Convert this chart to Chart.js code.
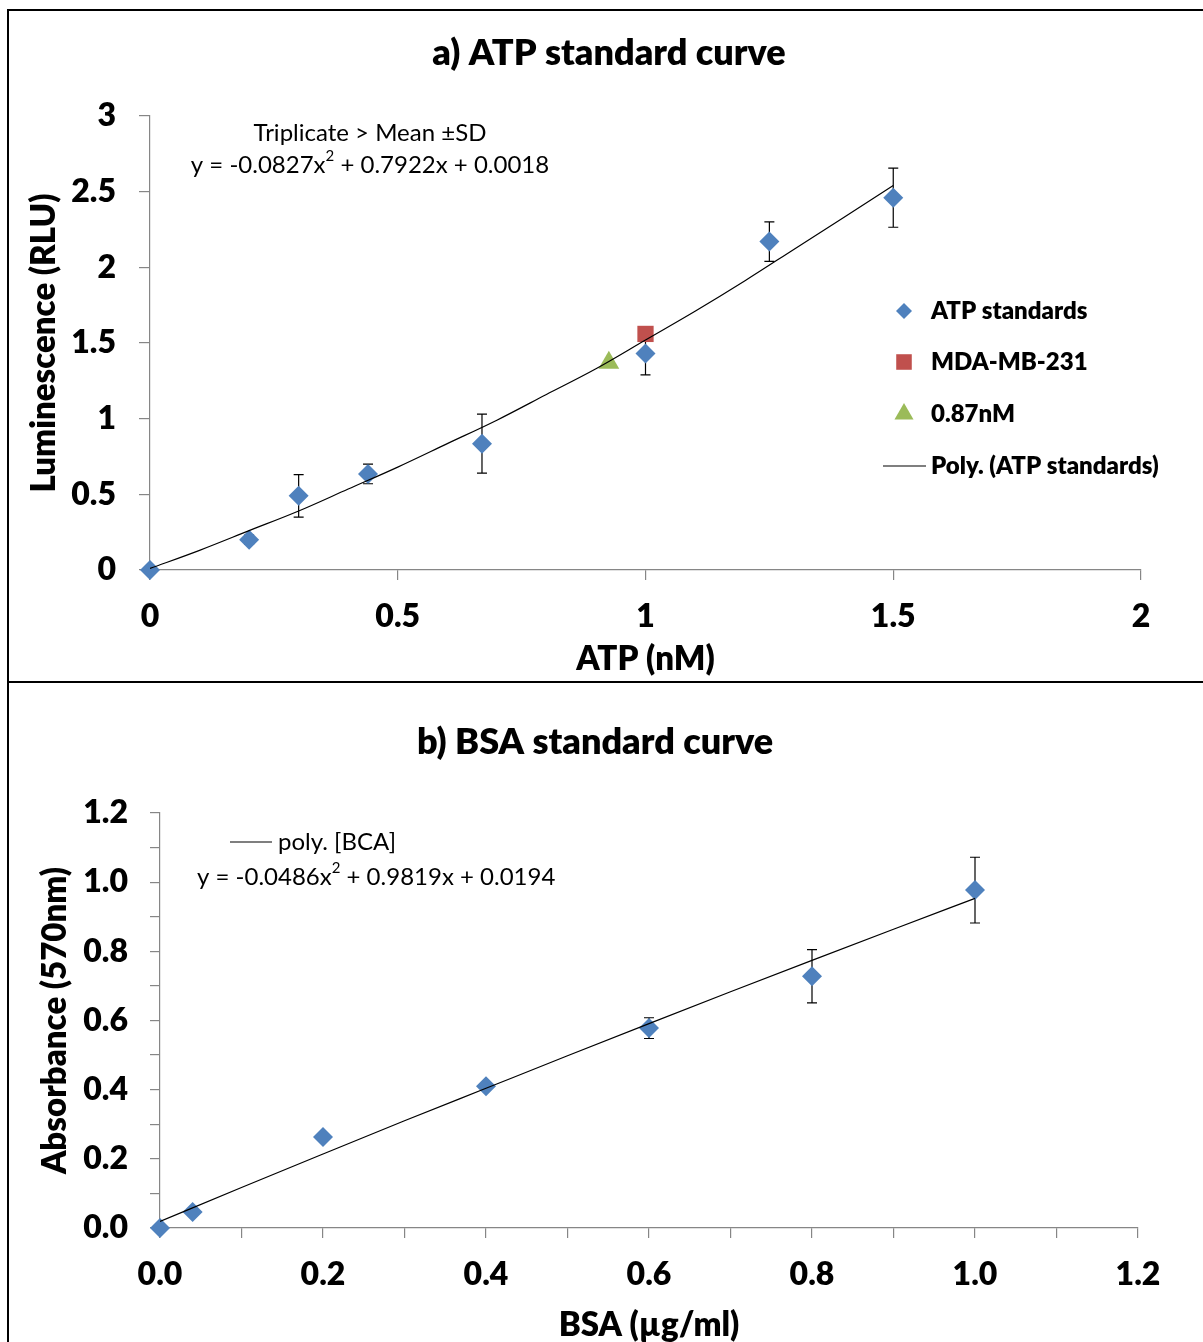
<!DOCTYPE html>
<html><head><meta charset="utf-8">
<script src="https://cdn.jsdelivr.net/npm/chart.js@4.4.0/dist/chart.umd.min.js"></script>
<style>
html,body{margin:0;padding:0;background:#fff;}
#wrap{position:relative;width:1203px;height:1342px;overflow:hidden;background:#fff;}
.box{position:absolute;}
canvas{position:absolute;left:0;top:0;}
</style></head><body>
<div id="wrap">
<div class="box" style="left:7px;top:9px;width:1220px;height:2px;background:#000"></div>
<div class="box" style="left:7px;top:9px;width:2px;height:1400px;background:#000"></div>
<div class="box" style="left:7px;top:681px;width:1220px;height:2px;background:#000"></div>
<div class="box" style="left:0;top:0;width:1203px;height:680px"><canvas id="chartA" width="1203" height="680"></canvas></div>
<div class="box" style="left:0;top:683px;width:1203px;height:659px"><canvas id="chartB" width="1203" height="659"></canvas></div>
</div>
<script>
// ---------- Panel a data ----------
const atpConc = [0, 0.2, 0.3, 0.44, 0.67, 1.0, 1.25, 1.5];
const atpLum  = [0, 0.2, 0.49, 0.635, 0.835, 1.43, 2.17, 2.46];
const atpSD   = [0, 0.03, 0.14, 0.065, 0.195, 0.14, 0.13, 0.195];
const mdaConc = [1.0];
const mdaLum  = [1.56];
const refConc = [0.926];
const refLum  = [1.37];
const atpFitConc = [0, 0.1, 0.2, 0.3, 0.4, 0.5, 0.6, 0.7, 0.8, 0.9, 1.0, 1.1, 1.2, 1.3, 1.4, 1.5];
const atpFitLum  = [0.01, 0.13, 0.26, 0.39, 0.535, 0.68, 0.835, 0.99, 1.16, 1.33, 1.52, 1.71, 1.91, 2.12, 2.33, 2.54];
const atpXTicks = [0, 0.5, 1, 1.5, 2];
const atpXTickLabels = ['0', '0.5', '1', '1.5', '2'];
const atpYTicks = [0, 0.5, 1, 1.5, 2, 2.5, 3];
const atpYTickLabels = ['0', '0.5', '1', '1.5', '2', '2.5', '3'];

// ---------- Panel b data ----------
const bsaConc = [0, 0.04, 0.2, 0.4, 0.6, 0.8, 1.0];
const bsaAbs  = [0, 0.046, 0.263, 0.41, 0.578, 0.728, 0.977];
const bsaSD   = [0, 0, 0, 0, 0.03, 0.077, 0.095];
const bsaFitConc = [0, 0.1, 0.2, 0.3, 0.4, 0.5, 0.6, 0.7, 0.8, 0.9, 1.0];
const bsaFitAbs  = [0.019, 0.117, 0.214, 0.31, 0.404, 0.498, 0.591, 0.683, 0.774, 0.864, 0.953];
const bsaXTicks = [0, 0.1, 0.2, 0.3, 0.4, 0.5, 0.6, 0.7, 0.8, 0.9, 1.0, 1.1, 1.2];
const bsaXTickLabels = ['0.0', '', '0.2', '', '0.4', '', '0.6', '', '0.8', '', '1.0', '', '1.2'];
const bsaYTicks = [0, 0.1, 0.2, 0.3, 0.4, 0.5, 0.6, 0.7, 0.8, 0.9, 1.0, 1.1, 1.2];
const bsaYTickLabels = ['0.0', '', '0.2', '', '0.4', '', '0.6', '', '0.8', '', '1.0', '', '1.2'];

const FONT = 'Lato, "Open Sans", sans-serif';
const HEAVY = '800';
const BLUE = '#4F81BD', RED = '#C0504D', GREEN = '#9BBB59', AXIS = '#868686';

function pts(xs, ys) { return xs.map((x, i) => ({x: x, y: ys[i]})); }

const errorBars = {
  id: 'errorBars',
  beforeDatasetsDraw(chart) {
    const ctx = chart.ctx, xs = chart.scales.x, ys = chart.scales.y;
    ctx.save();
    ctx.strokeStyle = '#000'; ctx.lineWidth = 1.2;
    chart.data.datasets.forEach(ds => {
      if (!ds.errors) return;
      ds.data.forEach((p, i) => {
        const e = ds.errors[i];
        if (!e) return;
        const px = xs.getPixelForValue(p.x);
        const y1 = ys.getPixelForValue(p.y + e), y2 = ys.getPixelForValue(p.y - e);
        ctx.beginPath();
        ctx.moveTo(px, y1); ctx.lineTo(px, y2);
        ctx.moveTo(px - 5, y1); ctx.lineTo(px + 5, y1);
        ctx.moveTo(px - 5, y2); ctx.lineTo(px + 5, y2);
        ctx.stroke();
      });
    });
    ctx.restore();
  }
};

function drawRich(ctx, parts, x, y, align, size, weight) {
  const setF = (sup) => { ctx.font = weight + ' ' + (sup ? Math.round(size * 0.62) : size) + 'px ' + FONT; };
  let total = 0;
  parts.forEach(p => { setF(p.sup); total += ctx.measureText(p.t).width; });
  let cx = align === 'center' ? x - total / 2 : x;
  ctx.textAlign = 'left'; ctx.textBaseline = 'middle';
  parts.forEach(p => {
    setF(p.sup);
    ctx.fillText(p.t, cx, p.sup ? y - size * 0.36 : y);
    cx += ctx.measureText(p.t).width;
  });
}

const decor = {
  id: 'decor',
  afterDraw(chart, args, o) {
    const ctx = chart.ctx, ca = chart.chartArea;
    ctx.save();
    ctx.fillStyle = '#000';
    ctx.font = HEAVY + ' ' + o.titleSize + 'px ' + FONT;
    ctx.textAlign = 'center'; ctx.textBaseline = 'middle';
    ctx.fillText(o.title, o.titleX, o.titleY);
    ctx.font = HEAVY + ' ' + o.axisSize + 'px ' + FONT;
    ctx.fillText(o.xTitle, (ca.left + ca.right) / 2, o.xTitleY);
    ctx.save();
    ctx.translate(o.yTitleX, (ca.top + ca.bottom) / 2);
    ctx.rotate(-Math.PI / 2);
    ctx.fillText(o.yTitle, 0, 0);
    ctx.restore();
    (o.texts || []).forEach(t => drawRich(ctx, t.parts, t.x, t.y, t.align, t.size, t.weight));
    (o.legend || []).forEach(l => {
      const ds = chart.data.datasets[l.index];
      if (l.line) {
        ctx.strokeStyle = '#000'; ctx.lineWidth = 1.2;
        ctx.beginPath(); ctx.moveTo(l.lineX1, l.y); ctx.lineTo(l.lineX2, l.y); ctx.stroke();
      } else {
        ctx.fillStyle = ds.backgroundColor;
        ctx.strokeStyle = ds.backgroundColor;
        Chart.helpers.drawPoint(ctx, {pointStyle: ds.pointStyle, radius: l.r, borderWidth: 0}, l.mx, l.y);
      }
      ctx.fillStyle = '#000';
      ctx.font = (l.weight || HEAVY) + ' ' + l.size + 'px ' + FONT;
      ctx.textAlign = 'left'; ctx.textBaseline = 'middle';
      ctx.fillText(ds.label, l.tx, l.y);
    });
    ctx.restore();
  }
};

function axisCfg(min, max, ticks, labels, tickLen, pad, isY, size) {
  return {
    type: 'linear', min: min, max: max,
    afterBuildTicks: s => { s.ticks = ticks.map(v => ({value: v})); },
    afterFit: s => { if (isY) s.width = size; else s.height = size; },
    ticks: {
      autoSkip: false, maxRotation: 0, padding: pad, color: '#000',
      font: {family: FONT, size: 32, weight: HEAVY},
      callback: (v, i) => labels[i]
    },
    grid: {drawOnChartArea: false, drawTicks: true, tickLength: tickLen, color: AXIS, lineWidth: 1.2},
    border: {display: true, color: AXIS, width: 1.2}
  };
}

Chart.defaults.font.family = FONT;

new Chart(document.getElementById('chartA'), {
  type: 'scatter',
  data: {datasets: [
    {label: 'ATP standards', data: pts(atpConc, atpLum), errors: atpSD, pointStyle: 'rectRot', pointRadius: 10,
     backgroundColor: BLUE, borderColor: BLUE, borderWidth: 0, order: 2, clip: false},
    {label: 'MDA-MB-231', data: pts(mdaConc, mdaLum), pointStyle: 'rect', pointRadius: 11.5,
     backgroundColor: RED, borderColor: RED, borderWidth: 0, order: 2, clip: false},
    {label: '0.87nM', data: pts(refConc, refLum), pointStyle: 'triangle', pointRadius: 12,
     backgroundColor: GREEN, borderColor: GREEN, borderWidth: 0, order: 2, clip: false},
    {label: 'Poly. (ATP standards)', data: pts(atpFitConc, atpFitLum), showLine: true, pointRadius: 0,
     borderColor: '#000', borderWidth: 1.2, tension: 0.3, cubicInterpolationMode: 'monotone', order: 1}
  ]},
  options: {
    responsive: false, animation: false, events: [],
    layout: {padding: {left: 0, right: 62, top: 116, bottom: 20}},
    plugins: {
      legend: {display: false}, tooltip: {enabled: false},
      decor: {
        title: 'a) ATP standard curve', titleX: 609, titleY: 53, titleSize: 36,
        axisSize: 33, xTitle: 'ATP (nM)', xTitleY: 659, yTitle: 'Luminescence (RLU)', yTitleX: 44,
        texts: [
          {parts: [{t: 'Triplicate > Mean \u00B1SD'}], x: 370, y: 133, align: 'center', size: 24, weight: 'normal'},
          {parts: [{t: 'y = -0.0827x'}, {t: '2', sup: true}, {t: ' + 0.7922x + 0.0018'}], x: 370, y: 165, align: 'center', size: 24, weight: 'normal'}
        ],
        legend: [
          {index: 0, mx: 904, tx: 931, y: 311, r: 8, size: 24},
          {index: 1, mx: 904, tx: 931, y: 362, r: 11, size: 24},
          {index: 2, mx: 904, tx: 931, y: 414, r: 11, size: 24},
          {index: 3, line: true, lineX1: 883, lineX2: 926, tx: 931, y: 466, size: 24}
        ]
      }
    },
    scales: {
      x: axisCfg(0, 2, atpXTicks, atpXTickLabels, 10, 17, false, 90),
      y: axisCfg(0, 3, atpYTicks, atpYTickLabels, 11, 23, true, 150)
    }
  },
  plugins: [errorBars, decor]
});

new Chart(document.getElementById('chartB'), {
  type: 'scatter',
  data: {datasets: [
    {label: 'BCA', data: pts(bsaConc, bsaAbs), errors: bsaSD, pointStyle: 'rectRot', pointRadius: 10,
     backgroundColor: BLUE, borderColor: BLUE, borderWidth: 0, order: 2, clip: false},
    {label: 'poly. [BCA]', data: pts(bsaFitConc, bsaFitAbs), showLine: true, pointRadius: 0,
     borderColor: '#000', borderWidth: 1.2, tension: 0.3, cubicInterpolationMode: 'monotone', order: 1}
  ]},
  options: {
    responsive: false, animation: false, events: [],
    layout: {padding: {left: 0, right: 65, top: 130, bottom: 24}},
    plugins: {
      legend: {display: false}, tooltip: {enabled: false},
      decor: {
        title: 'b) BSA standard curve', titleX: 595, titleY: 59, titleSize: 36,
        axisSize: 33, xTitle: 'BSA (\u00B5g/ml)', xTitleY: 642, yTitle: 'Absorbance (570nm)', yTitleX: 55,
        texts: [
          {parts: [{t: 'y = -0.0486x'}, {t: '2', sup: true}, {t: ' + 0.9819x + 0.0194'}], x: 197, y: 194, align: 'left', size: 24, weight: 'normal'}
        ],
        legend: [
          {index: 1, line: true, lineX1: 230, lineX2: 272, tx: 278, y: 159, size: 24, weight: 'normal'}
        ]
      }
    },
    scales: {
      x: axisCfg(0, 1.2, bsaXTicks, bsaXTickLabels, 10, 17, false, 90),
      y: axisCfg(0, 1.2, bsaYTicks, bsaYTickLabels, 10, 22, true, 160)
    }
  },
  plugins: [errorBars, decor]
});
</script>
</body></html>
